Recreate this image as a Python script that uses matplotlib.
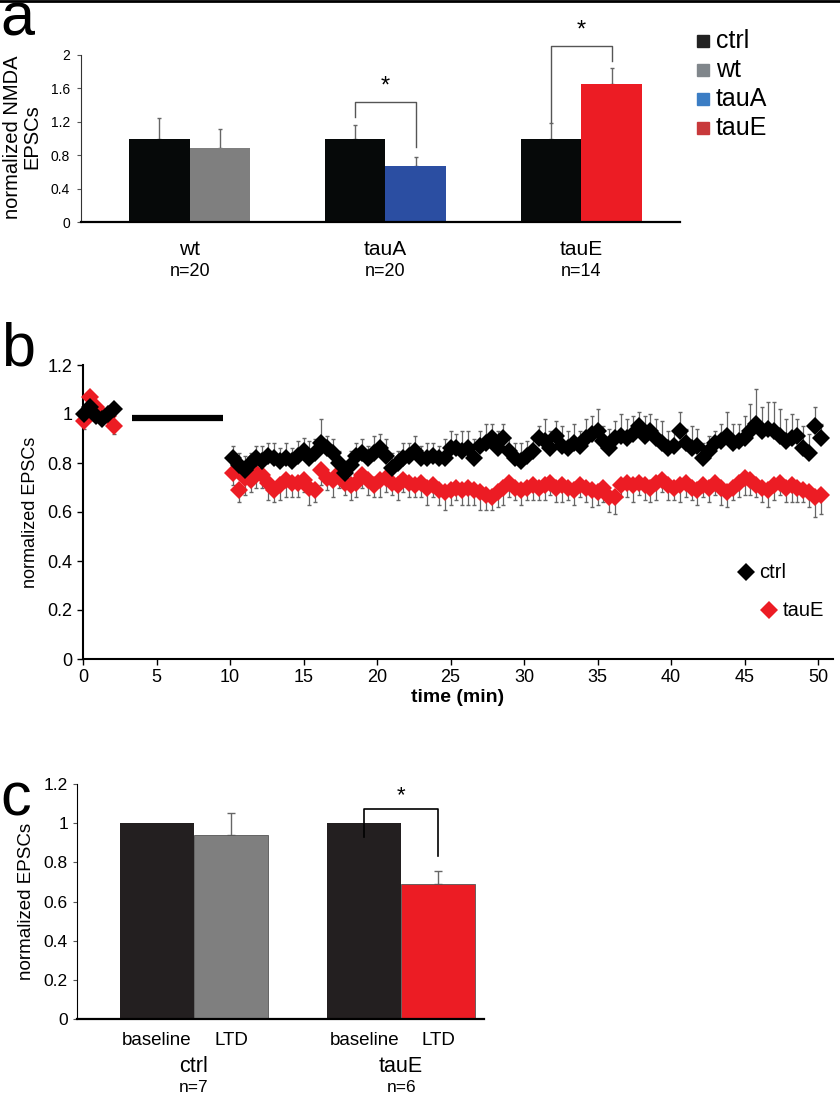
import numpy as np
import matplotlib
matplotlib.use('Agg')
import matplotlib.pyplot as plt
from matplotlib.lines import Line2D

plt.rcParams['font.family'] = ['Liberation Sans', 'DejaVu Sans']

# ---- panel a data
groups_a = ['wt', 'tauA', 'tauE']
n_a = ['n=20', 'n=20', 'n=14']
ctrl_a = [1.0, 1.0, 1.0]
ctrl_a_err = [0.24, 0.16, 0.19]
geno_a = [0.89, 0.67, 1.65]
geno_a_err = [0.22, 0.11, 0.20]
geno_colors = ['#7f7f7f', '#2b4ea2', '#ec1c24']
legend_a = ['ctrl', 'wt', 'tauA', 'tauE']
legend_colors = ['#222222', '#80868b', '#3b7dc4', '#c8393b']

# ---- panel b data
base_t = [0.1, 0.5, 0.9, 1.3, 1.7, 2.1]
base_ctrl = [1.00, 1.03, 0.99, 0.98, 1.00, 1.02]
base_ctrl_err = [0.02, 0.02, 0.02, 0.02, 0.02, 0.02]
base_taue = [0.97, 1.07, 1.03, 1.00, 0.99, 0.95]
base_taue_err = [0.03, 0.02, 0.02, 0.02, 0.02, 0.03]
tbs_start, tbs_end, tbs_level = 3.3, 9.5, 0.985

t_ltd = np.arange(101) * 0.4 + 10.2
ctrl_b = [0.82, 0.79, 0.77, 0.80, 0.82, 0.81, 0.83, 0.82, 0.81, 0.82, 0.81,
          0.83, 0.85, 0.82, 0.84, 0.88, 0.86, 0.84, 0.80, 0.76, 0.79,
          0.83, 0.84, 0.82, 0.84, 0.86, 0.83, 0.78, 0.80, 0.82, 0.83,
          0.85, 0.82, 0.82, 0.83, 0.82, 0.82, 0.86, 0.86, 0.85, 0.86,
          0.82, 0.87, 0.88, 0.90, 0.86, 0.90, 0.85, 0.82, 0.81, 0.83,
          0.85, 0.90, 0.89, 0.86, 0.91, 0.87, 0.86, 0.88, 0.87, 0.90,
          0.92, 0.93, 0.89, 0.86, 0.90, 0.91, 0.90, 0.92, 0.95, 0.91,
          0.93, 0.90, 0.88, 0.86, 0.87, 0.93, 0.88, 0.86, 0.87, 0.82,
          0.85, 0.88, 0.89, 0.91, 0.88, 0.89, 0.90, 0.93, 0.96, 0.93,
          0.94, 0.93, 0.91, 0.89, 0.90, 0.91, 0.86, 0.84, 0.95, 0.90]
ctrl_b_err = [0.05, 0.05, 0.06, 0.04, 0.05, 0.06, 0.05, 0.06, 0.05, 0.06, 0.05,
              0.06, 0.05, 0.07, 0.06, 0.10, 0.05, 0.06, 0.05, 0.05, 0.06,
              0.05, 0.06, 0.05, 0.07, 0.06, 0.07, 0.06, 0.05, 0.06, 0.05,
              0.06, 0.05, 0.06, 0.05, 0.05, 0.08, 0.07, 0.06, 0.08, 0.07,
              0.08, 0.06, 0.08, 0.06, 0.07, 0.06, 0.05, 0.06, 0.07, 0.06,
              0.06, 0.05, 0.09, 0.07, 0.06, 0.08, 0.07, 0.08, 0.06, 0.08,
              0.07, 0.09, 0.06, 0.08, 0.07, 0.09, 0.08, 0.07, 0.06, 0.08,
              0.07, 0.08, 0.09, 0.07, 0.06, 0.08, 0.06, 0.09, 0.07, 0.06,
              0.06, 0.05, 0.07, 0.10, 0.08, 0.07, 0.09, 0.11, 0.14, 0.10,
              0.11, 0.12, 0.11, 0.09, 0.10, 0.07, 0.09, 0.08, 0.08, 0.06]
taue_b = [0.76, 0.69, 0.74, 0.73, 0.76, 0.75, 0.72, 0.69, 0.71, 0.73, 0.72,
          0.72, 0.73, 0.70, 0.69, 0.77, 0.74, 0.73, 0.76, 0.72, 0.71,
          0.72, 0.75, 0.73, 0.71, 0.73, 0.74, 0.72, 0.71, 0.73, 0.72,
          0.71, 0.72, 0.70, 0.71, 0.69, 0.68, 0.69, 0.70, 0.69, 0.70,
          0.69, 0.68, 0.67, 0.66, 0.68, 0.70, 0.72, 0.70, 0.69, 0.70,
          0.71, 0.70, 0.71, 0.72, 0.70, 0.71, 0.70, 0.69, 0.71, 0.70,
          0.69, 0.68, 0.70, 0.66, 0.66, 0.71, 0.72, 0.71, 0.72, 0.71,
          0.70, 0.72, 0.73, 0.71, 0.70, 0.71, 0.72, 0.70, 0.69, 0.71,
          0.70, 0.72, 0.70, 0.68, 0.70, 0.72, 0.74, 0.73, 0.71, 0.70,
          0.69, 0.71, 0.72, 0.70, 0.71, 0.70, 0.69, 0.68, 0.66, 0.67]
taue_b_err = [0.05, 0.05, 0.07, 0.05, 0.06, 0.05, 0.07, 0.05, 0.06, 0.07, 0.06,
              0.06, 0.05, 0.07, 0.05, 0.06, 0.05, 0.07, 0.06, 0.05, 0.06,
              0.06, 0.05, 0.06, 0.05, 0.07, 0.06, 0.05, 0.06, 0.05, 0.06,
              0.05, 0.06, 0.07, 0.05, 0.06, 0.07, 0.06, 0.05, 0.06, 0.07,
              0.06, 0.07, 0.06, 0.05, 0.06, 0.07, 0.06, 0.05, 0.06, 0.05,
              0.06, 0.05, 0.06, 0.05, 0.06, 0.07, 0.05, 0.06, 0.05, 0.06,
              0.07, 0.05, 0.06, 0.06, 0.07, 0.05, 0.06, 0.07, 0.05, 0.06,
              0.06, 0.07, 0.05, 0.06, 0.05, 0.07, 0.06, 0.05, 0.06, 0.05,
              0.06, 0.05, 0.07, 0.06, 0.05, 0.06, 0.07, 0.06, 0.05, 0.06,
              0.07, 0.06, 0.05, 0.06, 0.07, 0.06, 0.05, 0.06, 0.08, 0.08]

# ---- panel c data
groups_c = ['ctrl', 'tauE']
n_c = ['n=7', 'n=6']
baseline_c = [1.0, 1.0]
ltd_c = [0.94, 0.69]
ltd_c_err = [0.11, 0.065]
ltd_colors = ['#7f7f7f', '#ec1c24']

BLACK = '#060909'
ERR = '#666666'
MS = 9

fig = plt.figure(figsize=(8.4, 10.93), dpi=100)
W, H = 840.0, 1093.0

def ax_box(x0, x1, ytop, ybot):
    return [x0 / W, 1 - ybot / H, (x1 - x0) / W, (ybot - ytop) / H]

# top rule
fig.add_artist(Line2D([0, 1], [0.9995, 0.9995], color='k', lw=2))

# ================= panel a
axa = fig.add_axes(ax_box(81, 680, 55, 222))
w = 0.31
x = np.arange(len(groups_a))
axa.bar(x - w / 2, ctrl_a, w, color=BLACK, zorder=2)
axa.bar(x + w / 2, geno_a, w, color=geno_colors, zorder=2)
axa.errorbar(x - w / 2, ctrl_a, yerr=[[0] * 3, ctrl_a_err], fmt='none',
             ecolor=ERR, elinewidth=1, capsize=1.5, zorder=1)
axa.errorbar(x + w / 2, geno_a, yerr=[[0] * 3, geno_a_err], fmt='none',
             ecolor=ERR, elinewidth=1, capsize=1.5, zorder=1)
axa.set_xlim(-0.556, 2.505)
axa.set_ylim(0, 2)
axa.set_yticks([0, 0.4, 0.8, 1.2, 1.6, 2])
axa.set_yticklabels(['0', '0.4', '0.8', '1.2', '1.6', '2'])
axa.set_xticks([])
for s in ['top', 'right']:
    axa.spines[s].set_visible(False)
axa.spines['left'].set_color('#333333')
axa.spines['bottom'].set_linewidth(1.6)
axa.tick_params(axis='y', labelsize=10, length=3, color='#555555', pad=5)

# significance brackets
axa.plot([1 - w / 2, 1 - w / 2, 1 + w / 2, 1 + w / 2], [1.26, 1.44, 1.44, 0.90],
         color='#555555', lw=1, clip_on=False)
axa.text(1, 1.62, '*', ha='center', va='center', fontsize=17)
axa.plot([2 - w / 2, 2 - w / 2, 2 + w / 2, 2 + w / 2], [1.20, 2.11, 2.11, 1.93],
         color='#555555', lw=1, clip_on=False)
axa.text(2, 2.29, '*', ha='center', va='center', fontsize=17, clip_on=False)

tr = axa.get_xaxis_transform()
for i in range(len(groups_a)):
    axa.text(x[i], -0.165, groups_a[i], transform=tr, ha='center', va='center', fontsize=15)
    axa.text(x[i], -0.295, n_a[i], transform=tr, ha='center', va='center', fontsize=13)

fig.text(22 / W, 1 - 137 / H, 'normalized NMDA\nEPSCs', rotation=90,
         ha='center', va='center', fontsize=14.5, linespacing=1.0)

# legend a
for i, (lab, c) in enumerate(zip(legend_a, legend_colors)):
    yy = 1 - (41 + 29 * i) / H
    fig.add_artist(Line2D([703 / W], [yy], marker='s', ms=8.5, color=c, lw=0))
    fig.text(716 / W, yy, lab, ha='left', va='center', fontsize=18)

fig.text(0.001, 1 - 36 / H, 'a', fontsize=44, ha='left', va='baseline')

# ================= panel b
axb = fig.add_axes(ax_box(83, 83 + 51 * 14.7, 365, 659))
axb.errorbar(base_t, base_taue, yerr=[base_taue_err, [0] * 6], fmt='none',
             ecolor=ERR, elinewidth=0.9, capsize=1.5, zorder=1)
axb.errorbar(t_ltd, taue_b, yerr=[taue_b_err, np.zeros(101)], fmt='none',
             ecolor=ERR, elinewidth=0.9, capsize=1.5, zorder=1)
axb.errorbar(base_t, base_ctrl, yerr=[[0] * 6, base_ctrl_err], fmt='none',
             ecolor=ERR, elinewidth=0.9, capsize=1.5, zorder=1)
axb.errorbar(t_ltd, ctrl_b, yerr=[np.zeros(101), ctrl_b_err], fmt='none',
             ecolor=ERR, elinewidth=0.9, capsize=1.5, zorder=1)
axb.plot(base_t, base_taue, 'D', color='#ec1c24', ms=MS, mew=0, zorder=3, clip_on=False)
axb.plot(t_ltd, taue_b, 'D', color='#ec1c24', ms=MS, mew=0, zorder=3)
axb.plot(base_t, base_ctrl, 'D', color='black', ms=MS, mew=0, zorder=4, clip_on=False)
axb.plot(t_ltd, ctrl_b, 'D', color='black', ms=MS, mew=0, zorder=4)
axb.plot([tbs_start, tbs_end], [tbs_level, tbs_level], color='black', lw=4.5,
         solid_capstyle='butt')
axb.set_xlim(0, 51)
axb.set_ylim(0, 1.2)
axb.set_xticks(np.arange(0, 51, 5))
axb.set_yticks([0, 0.2, 0.4, 0.6, 0.8, 1.0, 1.2])
axb.set_yticklabels(['0', '0.2', '0.4', '0.6', '0.8', '1', '1.2'])
for s in ['top', 'right']:
    axb.spines[s].set_visible(False)
axb.spines['left'].set_linewidth(1.5)
axb.spines['bottom'].set_linewidth(1.5)
axb.tick_params(labelsize=13, length=4, width=1)
axb.set_xlabel('time (min)', fontsize=14, fontweight='bold', labelpad=2)
axb.set_ylabel('normalized EPSCs', fontsize=13, labelpad=6)

axb.plot([45.1], [0.355], 'D', color='black', ms=MS, mew=0, clip_on=False)
axb.text(46.0, 0.355, 'ctrl', fontsize=14.5, va='center')
axb.plot([46.7], [0.20], 'D', color='#ec1c24', ms=MS, mew=0, clip_on=False)
axb.text(47.6, 0.20, 'tauE', fontsize=14.5, va='center')

fig.text(0.001, 1 - 366 / H, 'b', fontsize=44, ha='left', va='baseline')

# ================= panel c
axc = fig.add_axes(ax_box(77, 484, 784, 1019))
wc = 0.357
xc = np.arange(len(groups_c))
axc.bar(xc - wc / 2, baseline_c, wc, color='#231f20', zorder=2)
axc.bar(xc + wc / 2, ltd_c, wc, color=ltd_colors, edgecolor='#555555', lw=0.6, zorder=2)
axc.errorbar(xc + wc / 2, ltd_c, yerr=[[0, 0], ltd_c_err], fmt='none',
             ecolor=ERR, elinewidth=1, capsize=3, zorder=1)
axc.set_xlim(-0.565, 1.40)
axc.set_ylim(0, 1.2)
axc.set_yticks([0, 0.2, 0.4, 0.6, 0.8, 1.0, 1.2])
axc.set_yticklabels(['0', '0.2', '0.4', '0.6', '0.8', '1', '1.2'])
axc.set_xticks([])
for s in ['top', 'right']:
    axc.spines[s].set_visible(False)
axc.spines['bottom'].set_linewidth(1.6)
axc.tick_params(axis='y', labelsize=12.5, length=3, color='#555555')
axc.set_ylabel('normalized EPSCs', fontsize=13.5, labelpad=6)

axc.plot([1 - wc / 2, 1 - wc / 2, 1 + wc / 2, 1 + wc / 2], [0.93, 1.07, 1.07, 0.83],
         color='black', lw=1.2, clip_on=False, zorder=5)
axc.text(1, 1.14, '*', ha='center', va='center', fontsize=16)

trc = axc.get_xaxis_transform()
for i in range(len(groups_c)):
    axc.text(xc[i] - wc / 2, -0.09, 'baseline', transform=trc, ha='center', va='center', fontsize=13.5)
    axc.text(xc[i] + wc / 2, -0.09, 'LTD', transform=trc, ha='center', va='center', fontsize=13.5)
    axc.text(xc[i], -0.20, groups_c[i], transform=trc, ha='center', va='center', fontsize=15.5)
    axc.text(xc[i], -0.29, n_c[i], transform=trc, ha='center', va='center', fontsize=12.5)

fig.text(0.001, 1 - 815 / H, 'c', fontsize=44, ha='left', va='baseline')

fig.savefig('out.png', dpi=100)
